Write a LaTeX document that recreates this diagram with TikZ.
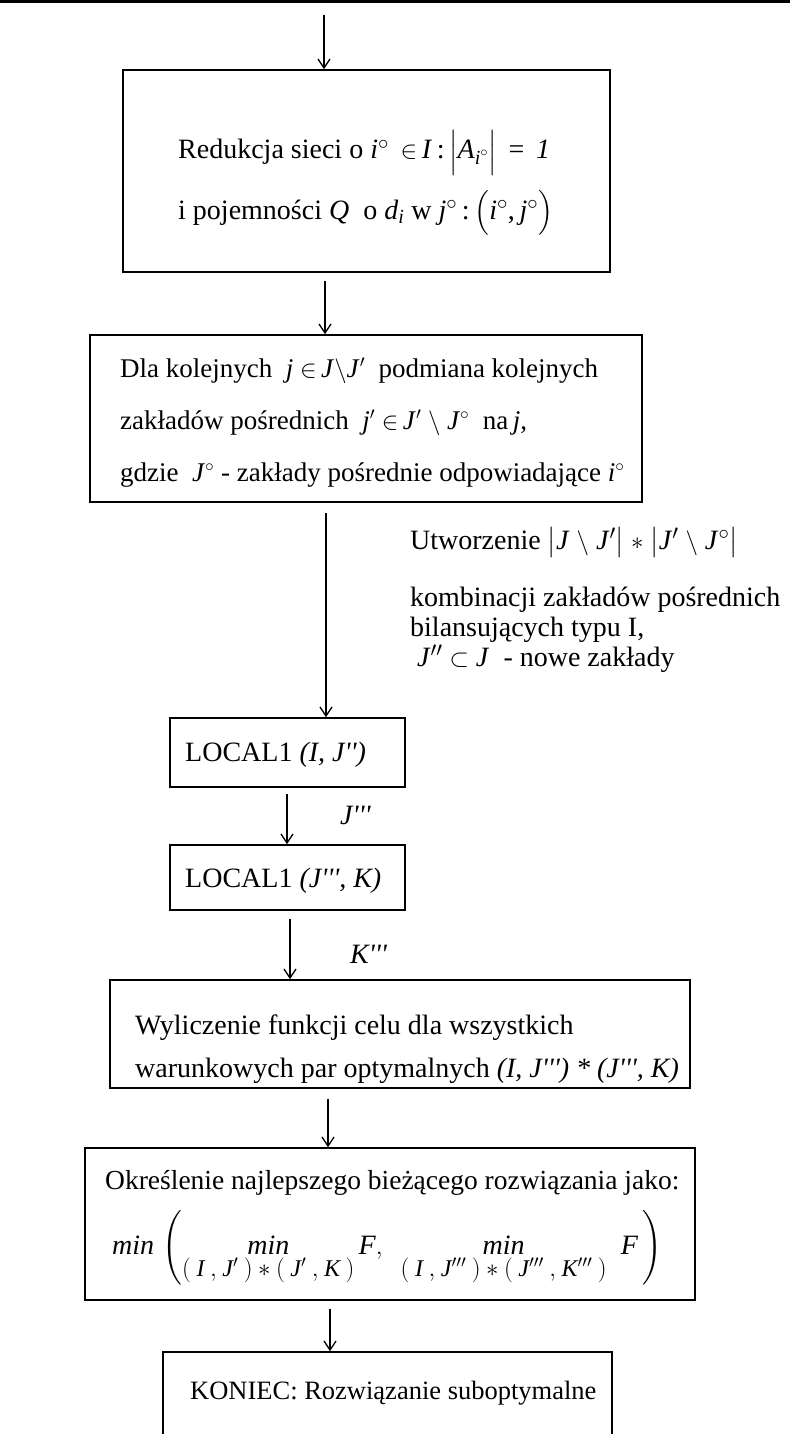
\documentclass[tikz,border=0pt]{standalone}
\usepackage{amsmath}
\usepackage{fontspec}
\setmainfont{Liberation Serif}
\usetikzlibrary{arrows.meta}
\DeclareMathSizes{28}{28}{20}{15}
\DeclareMathSizes{28.01}{28.01}{24}{18}
\DeclareMathSizes{27}{27}{19}{14}
\DeclareMathSizes{26.5}{26.5}{19}{14}
\newcommand{\V}[1]{\textit{#1}}
\newcommand{\pq}{\textquotesingle}
\newcommand{\g}{\mskip 4mu}
\begin{document}
\begin{tikzpicture}[x=1pt,y=-1pt,
  font=\fontsize{28}{33}\selectfont,
  box/.style={draw, line width=1.6pt, inner sep=0pt},
  txt/.style={anchor=base west, inner sep=0pt},
  arr/.style={-{Straight Barb[length=9pt,width=12pt]}, line width=1.3pt}]
\useasboundingbox (0,0) rectangle (790,1434);
\clip (0,0) rectangle (790,1434);
% scan edge line at top
\coordinate (edgeL) at (0,1.5);
\coordinate (edgeR) at (790,1.5);
\draw[line width=2.5pt] (edgeL) -- (edgeR);

% boxes
\node[box, minimum width=487pt, minimum height=202pt] (b1) at (366.5,171) {};
\node[box, minimum width=552pt, minimum height=167pt] (b2) at (366,418.5) {};
\node[box, minimum width=235pt, minimum height=69pt] (b3) at (287.5,752.5) {};
\node[box, minimum width=235pt, minimum height=65pt] (b4) at (287.5,877.5) {};
\node[box, minimum width=580pt, minimum height=108pt] (b5) at (400,1034) {};
\node[box, minimum width=610pt, minimum height=152pt] (b6) at (390,1224) {};
\node[box, minimum width=449pt, minimum height=128pt] (b7) at (387.5,1416) {};

% texts
\node[txt] (t1a) at (178,159) {Redukcja sieci o \V{i}$^\circ$ \,$\in$\,\V{I}\,:\,$\Bigl|$\V{A}$_{\textit{i}^\circ}\Bigr|$ \,= \,\V{1}};
\node[txt] (t1b) at (178,219) {i pojemności \V{Q} \ o \V{d}$_{\textit{i}}$ w \V{j}$^\circ$\,:\,$\Bigl($\V{i}$^\circ$,\,\V{j}$^\circ\Bigr)$};

\begin{scope}[font=\fontsize{27}{32}\selectfont]
\node[txt] (t2a) at (120,377) {Dla kolejnych \ \V{j} $\in$\,\V{J}$\setminus$\V{J}$'$ \ podmiana kolejnych};
\node[txt] (t2b) at (120,429) {zakładów pośrednich \ \V{j}$'$ $\in$\,\V{J}$'$ $\setminus$ \V{J}$^\circ$ \ na\,\V{j},};
\node[txt] (t2c) at (120,481) {gdzie \ \V{J}$^\circ$ - zakłady pośrednie odpowiadające \V{i}$^\circ$};
\end{scope}

\node[txt] (n1) at (410,549) {Utworzenie $\bigl|$\V{J} $\setminus$ \V{J}$'\bigr|$ $*$ $\bigl|$\V{J}$'$ $\setminus$ \V{J}$^\circ\bigr|$};
\node[txt] (n2) at (410,606) {kombinacji zakładów pośrednich};
\node[txt] (n3) at (410,636) {bilansujących typu I,};
\node[txt] (n4) at (410,666) {\ \V{J}$''$ $\subset$ \V{J} \ - nowe zakłady};

\node[txt] (t3) at (185,761) {LOCAL1 \V{(I, J\pq\pq)}};
\node[txt] (lj) at (340,824) {\V{J\pq\pq\pq}};
\node[txt] (t4) at (185,887) {LOCAL1 \V{(J\pq\pq\pq, K)}};
\node[txt] (lk) at (350,963) {\V{K\pq\pq\pq}};

\node[txt] (t5a) at (135,1034) {Wyliczenie funkcji celu dla wszystkich};
\node[txt] (t5b) at (135,1077) {warunkowych par optymalnych \V{(I, J\pq\pq\pq) * (J\pq\pq\pq, K)}};

\node[txt, font=\fontsize{27.5}{32}\selectfont] (t6a) at (105,1189) {Określenie najlepszego bieżącego rozwiązania jako:};
\node[txt, font=\fontsize{28.01}{33}\selectfont] (t6b) at (112,1254) {$\textit{min}\,\left(\mathop{\textit{min}}\limits_{(\g\textit{I}\g,\g\textit{J}'\g)\g*\g(\g\textit{J}'\g,\g\textit{K}\g)}\textit{F},\hspace{14pt}\mathop{\textit{min}}\limits_{(\g\textit{I}\g,\g\textit{J}'''\g)\g*\g(\g\textit{J}'''\g,\g\textit{K}'''\g)}\hspace{10pt}\textit{F}\,\right)$};

\node[txt, font=\fontsize{26.5}{31}\selectfont] (t7) at (190,1399) {KONIEC: Rozwiązanie suboptymalne};

% arrows
\coordinate (s1) at (324,15);
\coordinate (x2) at (325,0);
\coordinate (x3) at (326,0);
\coordinate (x4) at (287,0);
\coordinate (x5) at (290,0);
\coordinate (x6) at (328,0);
\coordinate (x7) at (330,0);
\draw[arr] (s1) -- (b1.north -| s1);
\draw[arr] (b1.south -| x2) ++(0,8) -- (b2.north -| x2);
\draw[arr] (b2.south -| x3) ++(0,10) -- (b3.north -| x3);
\draw[arr] (b3.south -| x4) ++(0,6) -- (b4.north -| x4);
\draw[arr] (b4.south -| x5) ++(0,8) -- (b5.north -| x5);
\draw[arr] (b5.south -| x6) ++(0,10) -- (b6.north -| x6);
\draw[arr] (b6.south -| x7) ++(0,8) -- (b7.north -| x7);
\end{tikzpicture}
\end{document}
